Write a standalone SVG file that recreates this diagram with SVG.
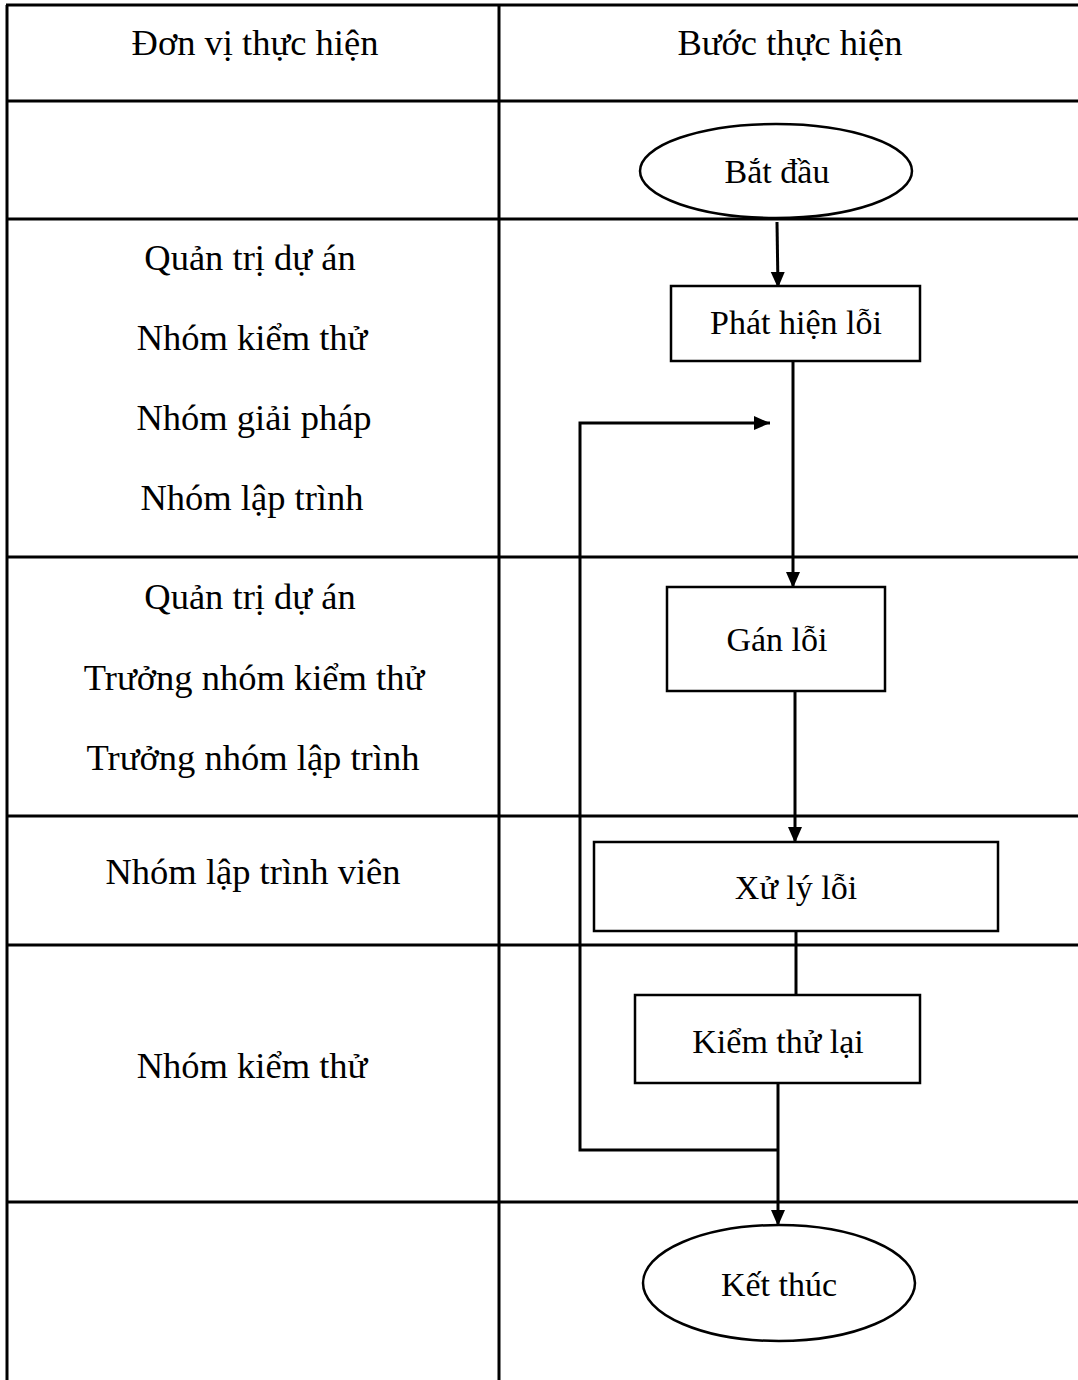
<svg xmlns="http://www.w3.org/2000/svg" width="1078" height="1380" viewBox="0 0 1078 1380">
<style>
.tbl{stroke:#000;stroke-width:3;fill:none}
.node{fill:#fff;stroke:#000;stroke-width:2.5}
.lbl{font-family:"Liberation Serif","Times New Roman",serif;font-size:36.5px;fill:#000;text-anchor:middle}
.ntxt{font-family:"Liberation Serif","Times New Roman",serif;font-size:34px;fill:#000;text-anchor:middle}
.conn{stroke:#000;stroke-width:3;fill:none}
</style>
<defs>
<marker id="arr" markerUnits="userSpaceOnUse" markerWidth="17" markerHeight="16" refX="16" refY="8" orient="auto">
<path d="M0,1 L16,8 L0,15 Z" fill="#000"/>
</marker>
</defs>
<rect width="1078" height="1380" fill="#fff"/>
<g id="table">
<line class="tbl" x1="7" y1="5" x2="7" y2="1380"/>
<line class="tbl" x1="499" y1="5" x2="499" y2="1380"/>
<line class="tbl" x1="6" y1="5" x2="1078" y2="5"/>
<line class="tbl" x1="6" y1="101" x2="1078" y2="101"/>
<line class="tbl" x1="6" y1="219" x2="1078" y2="219"/>
<line class="tbl" x1="6" y1="557" x2="1078" y2="557"/>
<line class="tbl" x1="6" y1="816" x2="1078" y2="816"/>
<line class="tbl" x1="6" y1="945" x2="1078" y2="945"/>
<line class="tbl" x1="6" y1="1202" x2="1078" y2="1202"/>
</g>
<g id="headers">
<text class="lbl" x="255" y="55">Đơn vị thực hiện</text>
<text class="lbl" x="790" y="55">Bước thực hiện</text>
</g>
<g id="units">
<text class="lbl" x="250" y="270">Quản trị dự án</text>
<text class="lbl" x="252" y="350">Nhóm kiểm thử</text>
<text class="lbl" x="254" y="430">Nhóm giải pháp</text>
<text class="lbl" x="252" y="510">Nhóm lập trình</text>
<text class="lbl" x="250" y="609">Quản trị dự án</text>
<text class="lbl" x="254" y="690">Trưởng nhóm kiểm thử</text>
<text class="lbl" x="253" y="770">Trưởng nhóm lập trình</text>
<text class="lbl" x="253" y="884">Nhóm lập trình viên</text>
<text class="lbl" x="252" y="1078">Nhóm kiểm thử</text>
</g>
<g id="connectors">
<line class="conn" x1="777" y1="222" x2="778" y2="288" marker-end="url(#arr)"/>
<line class="conn" x1="793" y1="360" x2="793" y2="588" marker-end="url(#arr)"/>
<line class="conn" x1="795" y1="691" x2="795" y2="843" marker-end="url(#arr)"/>
<line class="conn" x1="796" y1="931" x2="796" y2="995"/>
<line class="conn" x1="778" y1="1083" x2="778" y2="1226" marker-end="url(#arr)"/>
<polyline class="conn" points="778,1150 580,1150 580,423 770,423" marker-end="url(#arr)"/>
</g>
<g id="start">
<ellipse class="node" cx="776" cy="171" rx="136" ry="47"/>
<text class="ntxt" x="777" y="183">Bắt đầu</text>
</g>
<g id="detect">
<rect class="node" x="671" y="286" width="249" height="75"/>
<text class="ntxt" x="796" y="334">Phát hiện lỗi</text>
</g>
<g id="assign">
<rect class="node" x="667" y="587" width="218" height="104"/>
<text class="ntxt" x="777" y="651">Gán lỗi</text>
</g>
<g id="fix">
<rect class="node" x="594" y="842" width="404" height="89"/>
<text class="ntxt" x="796" y="899">Xử lý lỗi</text>
</g>
<g id="retest">
<rect class="node" x="635" y="995" width="285" height="88"/>
<text class="ntxt" x="778" y="1053">Kiểm thử lại</text>
</g>
<g id="end">
<ellipse class="node" cx="779" cy="1283" rx="136" ry="58"/>
<text class="ntxt" x="779" y="1296">Kết thúc</text>
</g>
</svg>
